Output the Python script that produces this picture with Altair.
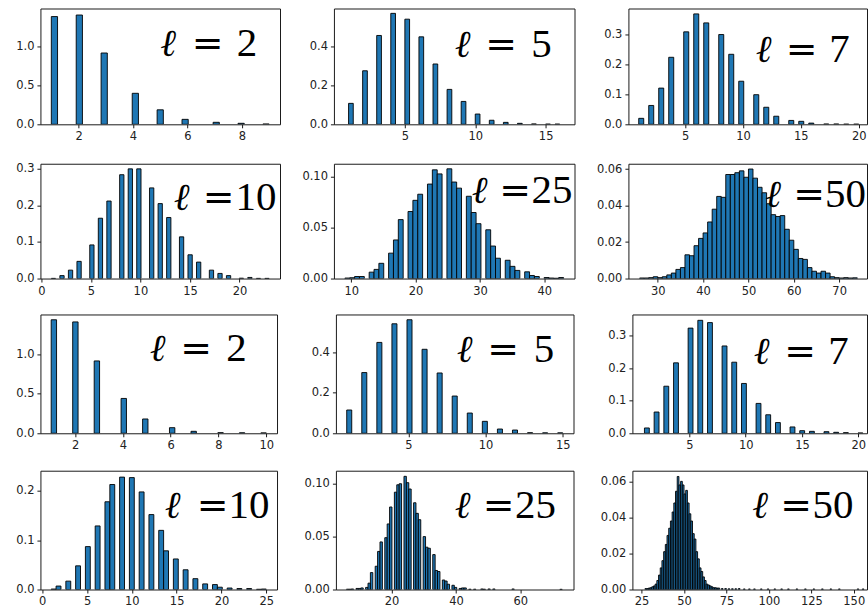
import math
import altair as alt
import pandas as pd

# Each panel: integer outcomes k and the histogram density of the bin holding k.
# Upper block = first sample, lower block = second sample.

# --- upper block ---
l2a_k = [1, 2, 3, 4, 5, 6, 7, 8, 9]
l2a_d = [1.39, 1.41, 0.92, 0.40, 0.187, 0.064, 0.026, 0.013, 0.004]

l5a_k = list(range(1, 17))
l5a_d = [0.108, 0.276, 0.458, 0.572, 0.542, 0.451, 0.311, 0.180, 0.118, 0.053,
         0.021, 0.010, 0.005, 0.002, 0.001, 0.001]

l7a_k = list(range(1, 21))
l7a_d = [0.020, 0.063, 0.121, 0.224, 0.309, 0.369, 0.339, 0.300, 0.234, 0.144,
         0.099, 0.057, 0.027, 0.013, 0.010, 0.004, 0.001, 0.001, 0.0005, 0.0005]

l10a_k = list(range(1, 24))
l10a_d = [0.0005, 0.008, 0.023, 0.047, 0.092, 0.165, 0.212, 0.284, 0.300, 0.300,
          0.248, 0.205, 0.167, 0.114, 0.065, 0.045, 0.023, 0.014, 0.008, 0.001,
          0.003, 0.0005, 0.0005]

l25a_k = list(range(9, 44))
l25a_d = [0.0005, 0.0008, 0.002, 0.002, 0.0063, 0.009, 0.015, 0.025, 0.038, 0.058,
          0.066, 0.077, 0.083, 0.093, 0.107, 0.103, 0.108, 0.095, 0.089, 0.081,
          0.065, 0.054, 0.048, 0.032, 0.020, 0.018, 0.012, 0.008, 0.0066, 0.003,
          0.002, 0.001, 0.0005, 0.0003, 0.001]

l50a_k = list(range(26, 74))
l50a_d = [0.0003, 0.0003, 0.0005, 0.001, 0.0005, 0.001, 0.002, 0.003, 0.005, 0.006,
          0.013, 0.0125, 0.018, 0.022, 0.025, 0.031, 0.038, 0.045, 0.0445, 0.057,
          0.057, 0.058, 0.059, 0.0555, 0.060, 0.055, 0.050, 0.047, 0.041, 0.035,
          0.034, 0.0345, 0.027, 0.021, 0.016, 0.011, 0.0105, 0.006, 0.004, 0.003,
          0.004, 0.003, 0.001, 0.0005, 0.0003, 0.0005, 0.0003, 0.0004]

# --- lower block ---
l2b_k = list(range(1, 11))
l2b_d = [1.437, 1.41, 0.916, 0.441, 0.181, 0.071, 0.025, 0.008, 0.006, 0.005]

l5b_k = list(range(1, 16))
l5b_d = [0.115, 0.300, 0.449, 0.541, 0.561, 0.415, 0.298, 0.184, 0.100, 0.059,
         0.021, 0.016, 0.003, 0.002, 0.002]

l7b_k = list(range(1, 24))
l7b_d = [0.0164, 0.0655, 0.145, 0.217, 0.324, 0.348, 0.341, 0.269, 0.219, 0.1535,
         0.092, 0.057, 0.033, 0.0195, 0.008, 0.006, 0.005, 0.003, 0.002, 0.001,
         0.0005, 0.0005, 0.0005]

l10b_k = list(range(1, 26))
l10b_d = [0.001, 0.007, 0.017, 0.048, 0.087, 0.129, 0.178, 0.213, 0.228, 0.227,
          0.198, 0.152, 0.120, 0.0785, 0.062, 0.040, 0.022, 0.0114, 0.010, 0.0047,
          0.003, 0.002, 0.002, 0.0005, 0.001]

l25b_k = list(range(6, 45)) + [46, 48, 49, 50, 52, 58, 73]
l25b_d = [0.0003, 0.0003, 0.0005, 0.001, 0.001, 0.0015, 0.002, 0.006, 0.016, 0.022,
          0.036, 0.045, 0.049, 0.062, 0.078, 0.092, 0.099, 0.100, 0.107, 0.101,
          0.095, 0.082, 0.072, 0.066, 0.050, 0.040, 0.039, 0.033, 0.018, 0.017,
          0.009, 0.008, 0.005, 0.004, 0.002, 0.001, 0.0015, 0.0015, 0.0003,
          0.0003, 0.0005, 0.0003, 0.0005, 0.0005, 0.0005, 0.0002]

l50b_k = list(range(27, 71)) + [72, 74, 76, 78, 80, 82, 85, 88, 91, 95, 99, 103,
                                107, 111, 116, 121, 126, 131, 136, 141, 152, 155]
l50b_d = [0.0005, 0.0005, 0.0008, 0.001, 0.0015, 0.002, 0.003, 0.005, 0.008, 0.012,
          0.016, 0.021, 0.025, 0.030, 0.034, 0.038, 0.043, 0.048, 0.0545, 0.0627,
          0.058, 0.060, 0.058, 0.053, 0.055, 0.048, 0.042, 0.038, 0.031, 0.028,
          0.021, 0.017, 0.012, 0.010, 0.007, 0.005, 0.003, 0.0025, 0.002, 0.0015,
          0.001, 0.001, 0.0008, 0.0008,
          0.0005, 0.0005, 0.0004, 0.0004, 0.0004, 0.0005, 0.0003, 0.0003, 0.0003,
          0.0003, 0.0003, 0.0003, 0.0003, 0.0003, 0.0003, 0.0003, 0.0003, 0.0003,
          0.0003, 0.0003, 0.0003, 0.0003]

# Histogram binning of each sample: (data min, data max, number of bins)
bins = {
    "l2a": (1, 9, 35), "l5a": (1, 16, 45), "l7a": (1, 20, 44),
    "l10a": (1, 23, 51), "l25a": (9, 43, 45), "l50a": (26, 74, 48),
    "l2b": (1, 10, 40), "l5b": (1, 15, 43), "l7b": (1, 23, 51),
    "l10b": (1, 25, 44), "l25b": (6, 73, 90), "l50b": (26, 156, 130),
}

BAR_FILL = "#1f77b4"
INK = "#1a1a1a"


def histogram_panel(k, dens, key, number, xdom, ytop, xticks, yticks, yfmt,
                    text_x, baseline, width, height):
    lo, hi, nb = bins[key]
    step = (hi - lo) / nb
    idx = [min(int(math.floor((v - lo) * nb / (hi - lo) + 1e-9)), nb - 1) for v in k]
    left = [lo + i * step for i in idx]
    df = pd.DataFrame({
        "left": left,
        "right": [v + step for v in left],
        "density": dens,
        "base": [0.0] * len(left),
    })

    bars = alt.Chart(df).mark_rect(
        color=BAR_FILL, stroke="black", strokeWidth=0.9, clip=True
    ).encode(
        x=alt.X("left:Q",
                scale=alt.Scale(domain=xdom, nice=False, zero=False),
                axis=alt.Axis(values=xticks, format="d", title=None,
                              labelFlush=False, labelOverlap=False)),
        x2="right:Q",
        y=alt.Y("density:Q",
                scale=alt.Scale(domain=[0, ytop], nice=False),
                axis=alt.Axis(values=yticks, format=yfmt, title=None,
                              labelOverlap=False)),
        y2="base:Q",
    )

    lab = pd.DataFrame({"ell": ["ℓ"], "eq": ["="], "num": [number]})
    ell = alt.Chart(lab).mark_text(
        font="DejaVu Serif", fontSize=38, fontStyle="italic", align="center",
        baseline="alphabetic", color="black", clip=True
    ).encode(text="ell:N", x=alt.value(text_x[0]), y=alt.value(baseline))
    eq = alt.Chart(lab).mark_text(
        font="DejaVu Serif", fontSize=38, align="center",
        baseline="alphabetic", color="black", clip=True
    ).encode(text="eq:N", x=alt.value(text_x[1]), y=alt.value(baseline))
    num = alt.Chart(lab).mark_text(
        font="Liberation Serif", fontSize=41, align="center",
        baseline="alphabetic", color="black", clip=True
    ).encode(text="num:N", x=alt.value(text_x[2]), y=alt.value(baseline))

    return alt.layer(bars, ell, eq, num).properties(width=width, height=height)


p1 = histogram_panel(l2a_k, l2a_d, "l2a", "2", [0.6, 9.4], 1.494, [2, 4, 6, 8],
                     [0, 0.5, 1.0], ".1f", (128, 167.5, 207), 47.5, 240, 116)
p2 = histogram_panel(l5a_k, l5a_d, "l5a", "5", [-0.04, 17.05], 0.597, [5, 10, 15],
                     [0, 0.2, 0.4], ".1f", (129, 167.5, 208), 48.5, 241, 116)
p3 = histogram_panel(l7a_k, l7a_d, "l7a", "7", [0.11, 20.71], 0.387, [5, 10, 15, 20],
                     [0, 0.1, 0.2, 0.3], ".1f", (135.5, 173.5, 211.5), 53.5, 239, 116)

p4 = histogram_panel(l10a_k, l10a_d, "l10a", "10", [-0.1, 24.1], 0.314, [0, 5, 10, 15, 20],
                     [0, 0.1, 0.2, 0.3], ".1f", (141.5, 178.5, 216), 46, 240, 115)
p5 = histogram_panel(l25a_k, l25a_d, "l25a", "25", [7.3, 44.7], 0.113, [10, 20, 30, 40],
                     [0, 0.05, 0.10], ".2f", (146, 181.5, 218.5), 39.5, 241, 115)
p6 = histogram_panel(l50a_k, l50a_d, "l50a", "50", [23.53, 76.14], 0.0629, [30, 40, 50, 60, 70],
                     [0, 0.02, 0.04, 0.06], ".2f", (145, 181, 217.5), 43.5, 239, 115)

p7 = histogram_panel(l2b_k, l2b_d, "l2b", "2", [0.55, 10.45], 1.504, [2, 4, 6, 8, 10],
                     [0, 0.5, 1.0], ".1f", (117.5, 156, 196.5), 47, 237, 119)
p8 = histogram_panel(l5b_k, l5b_d, "l5b", "5", [0.3, 15.7], 0.587, [5, 10, 15],
                     [0, 0.2, 0.4], ".1f", (129, 167.5, 208.5), 47.5, 238, 119)
p9 = histogram_panel(l7b_k, l7b_d, "l7b", "7", [-0.07, 20.78], 0.366, [5, 10, 15, 20],
                     [0, 0.1, 0.2, 0.3], ".1f", (129.5, 168, 206.5), 49.5, 235, 119)

p10 = histogram_panel(l10b_k, l10b_d, "l10b", "10", [-0.2, 26.2], 0.241, [0, 5, 10, 15, 20, 25],
                      [0, 0.1, 0.2], ".1f", (132.5, 172.5, 209), 47.5, 237, 119)
p11 = histogram_panel(l25b_k, l25b_d, "l25b", "25", [2.74, 76.5], 0.1123, [20, 40, 60],
                      [0, 0.05, 0.10], ".2f", (127, 163, 200), 47.5, 238, 119)
p12 = histogram_panel(l50b_k, l50b_d, "l50b", "50", [19.6, 157.8], 0.0659,
                      [25, 50, 75, 100, 125, 150], [0, 0.02, 0.04, 0.06], ".2f",
                      (128, 164, 201), 47.5, 235, 119)

row1 = alt.hconcat(p1, p2, p3, spacing=54, bounds="flush")
row2 = alt.hconcat(p4, p5, p6, spacing=54, bounds="flush")
row3 = alt.hconcat(p7, p8, p9, spacing=59, bounds="flush")
row4 = alt.hconcat(p10, p11, p12, spacing=59, bounds="flush")

upper = alt.vconcat(row1, row2, spacing=16.5)
lower = alt.vconcat(row3, row4, spacing=15.5)

chart = alt.vconcat(upper, lower, spacing=14.5).properties(
    padding={"left": 0.5, "top": 7, "right": 0, "bottom": 0},
    background="white",
).configure_view(
    stroke=INK, strokeWidth=1
).configure_axis(
    domain=False, grid=False,
    labelFont="DejaVu Sans", labelFontSize=11.5, labelColor="#222222",
    tickColor=INK, tickSize=3.5, tickWidth=1, labelPadding=3,
).configure_axisY(
    minExtent=39, maxExtent=39
).configure_axisX(
    minExtent=20, maxExtent=20
)

chart.save("out.html", embed_options={"renderer": "svg", "actions": False})
